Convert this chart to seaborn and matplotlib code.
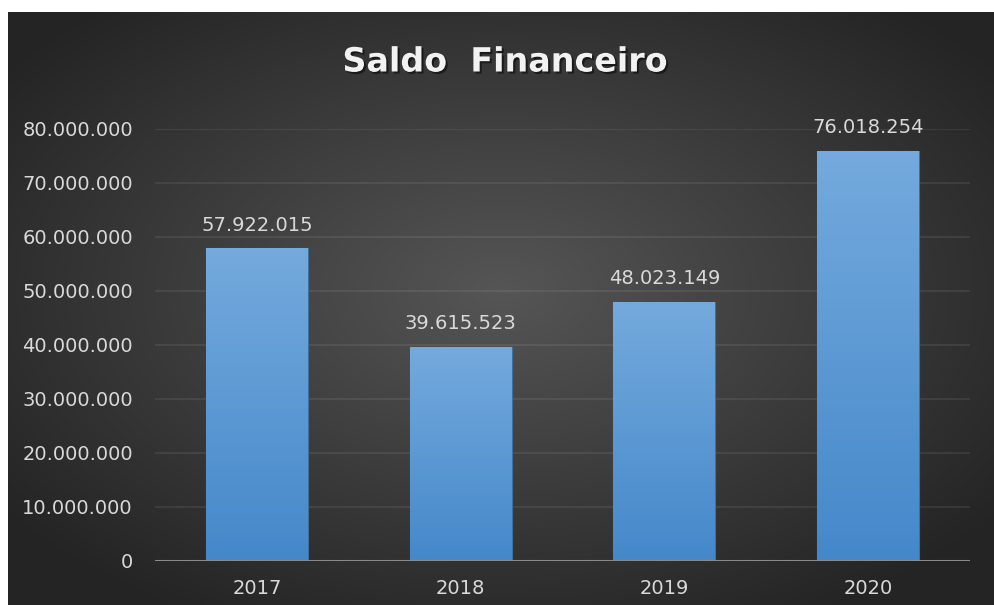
import numpy as np
import pandas as pd
import matplotlib
matplotlib.use('Agg')
import matplotlib.pyplot as plt
import matplotlib.patheffects as pe
from matplotlib.colors import LinearSegmentedColormap
import seaborn as sns

# Data
anos = ['2017', '2018', '2019', '2020']
saldo = [57922015, 39615523, 48023149, 76018254]
y_ticks = [0, 10000000, 20000000, 30000000, 40000000,
           50000000, 60000000, 70000000, 80000000]


def fmt_br(v):
    # thousand separator with dots
    return f'{v:,.0f}'.replace(',', '.')


sns.set_theme(style='dark')
plt.rcParams['font.family'] = ['DejaVu Sans']

W, H = 994, 605
fig = plt.figure(figsize=(W / 100, H / 100), dpi=100)
fig.patch.set_facecolor('white')

# dark panel with radial gradient
bg = fig.add_axes([8 / W, 0, 1 - 8 / W, 1 - 12 / H])
bg.set_axis_off()
h, w = 300, 500
yy, xx = np.mgrid[0:h, 0:w]
r = np.sqrt(((xx - 0.5 * w) / (0.62 * w)) ** 2 + ((yy - 0.47 * h) / (0.62 * h)) ** 2)
r = np.clip(r, 0, 1)
shade = 0.335 - 0.19 * r
bg.imshow(np.dstack([shade, shade, shade]), aspect='auto', interpolation='bilinear')

# main axes
ax = fig.add_axes([155 / W, 1 - 561 / H, 815 / W, (561 - 129) / H])
ax.patch.set_alpha(0)

df = pd.DataFrame({'ano': anos, 'saldo': saldo})
sns.barplot(data=df, x='ano', y='saldo', width=0.5, color='#5b9bd5',
            edgecolor='#3f6f9c', linewidth=0.8, ax=ax, zorder=3)

# vertical gradient inside each bar
grad = LinearSegmentedColormap.from_list('barra', ['#4588ca', '#74aadd'])
for p in ax.patches:
    x0, y0 = p.get_x(), p.get_y()
    bw, bh = p.get_width(), p.get_height()
    im = ax.imshow(np.linspace(0, 1, 100).reshape(-1, 1), cmap=grad, origin='lower',
                   extent=[x0, x0 + bw, y0, y0 + bh], aspect='auto', zorder=3.5)
    im.set_clip_path(p)

# data labels
for i, v in enumerate(saldo):
    ax.text(i, v + 4300000, fmt_br(v), ha='center', va='center',
            fontsize=14, color='#d9d9d9', zorder=5)

ax.set_xlim(-0.5, 3.5)
ax.set_ylim(0, 80000000)
ax.set_yticks(y_ticks)
ax.set_yticklabels([fmt_br(t) for t in y_ticks])
ax.yaxis.grid(True, color='white', alpha=0.09, linewidth=1.2)
ax.xaxis.grid(False)
ax.axhline(0, color='#8a8a8a', linewidth=2.2, zorder=4)
for s in ax.spines.values():
    s.set_visible(False)
ax.tick_params(axis='y', length=0, pad=16, labelsize=14, labelcolor='#d9d9d9')
ax.tick_params(axis='x', length=0, pad=13, labelsize=14, labelcolor='#d9d9d9')
ax.set_xlabel('')
ax.set_ylabel('')

fig.text(505 / W, 1 - 62 / H, 'Saldo  Financeiro', ha='center', va='center',
         fontsize=24, fontweight='bold', color='#f2f2f2',
         path_effects=[pe.withSimplePatchShadow(offset=(1.5, -1.5), shadow_rgbFace='black', alpha=0.5)])

fig.savefig('out.png', dpi=100, facecolor=fig.get_facecolor())
